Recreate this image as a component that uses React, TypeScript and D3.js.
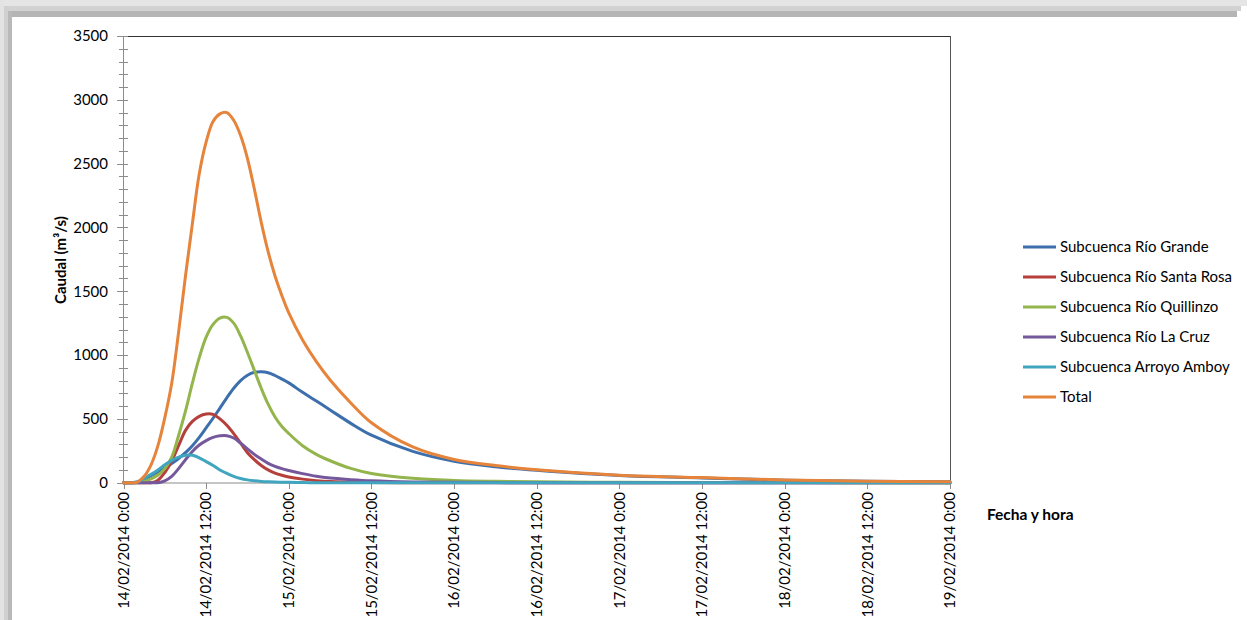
import React from 'react';
import * as d3 from 'd3';

// Hours since 14/02/2014 0:00
const HOURS = [0,1,2,3,4,5,6,7,8,9,10,11,12,13,14,15,16,17,18,19,20,21,22,23,24,26,28,30,33,36,42,48,54,60,72,84,96,108,120];

const RIO_GRANDE = [0,0,5,25,55,85,115,150,190,235,290,355,430,505,585,665,740,800,842,865,870,862,840,812,782,708,640,570,465,372,245,168,125,97,56,37,20,12,7];
const RIO_SANTA_ROSA = [0,0,0,0,0,20,80,170,290,410,480,520,538,535,500,450,385,310,235,180,135,100,75,58,45,28,16,9,5,2,0,0,0,0,0,0,0,0,0];
const RIO_QUILLINZO = [0,0,0,10,30,60,110,200,370,560,780,980,1140,1240,1290,1295,1250,1150,1020,880,740,615,515,440,385,290,222,172,112,72,34,18,11,7,3,2,1,0,0];
const RIO_LA_CRUZ = [0,0,0,0,0,0,15,50,110,180,245,295,330,355,367,368,350,310,265,222,185,152,128,110,96,71,50,36,24,15,6,3,1,0,0,0,0,0,0];
const ARROYO_AMBOY = [0,0,5,35,65,100,140,175,200,215,215,195,165,135,100,73,50,33,22,15,10,7,5,4,3,1,0,0,0,0,0,0,0,0,0,0,0,0,0];
const TOTAL = [0,0,5,50,140,290,510,780,1180,1620,2030,2420,2670,2830,2890,2900,2840,2720,2540,2300,2040,1810,1620,1465,1330,1118,948,805,625,470,280,182,135,102,59,40,21,12,8];

const SERIES_NAMES = [
  'Subcuenca Río Grande',
  'Subcuenca Río Santa Rosa',
  'Subcuenca Río Quillinzo',
  'Subcuenca Río La Cruz',
  'Subcuenca Arroyo Amboy',
  'Total',
];
const SERIES_VALUES = [RIO_GRANDE, RIO_SANTA_ROSA, RIO_QUILLINZO, RIO_LA_CRUZ, ARROYO_AMBOY, TOTAL];
const SERIES_COLORS = ['#3D6FAC', '#B53F3A', '#93B54C', '#75589C', '#40A5BF', '#E5843A'];

const Y_TICKS = [0, 500, 1000, 1500, 2000, 2500, 3000, 3500];
const X_TICK_HOURS = [0, 12, 24, 36, 48, 60, 72, 84, 96, 108, 120];
const X_TICK_LABELS = [
  '14/02/2014 0:00', '14/02/2014 12:00', '15/02/2014 0:00', '15/02/2014 12:00',
  '16/02/2014 0:00', '16/02/2014 12:00', '17/02/2014 0:00', '17/02/2014 12:00',
  '18/02/2014 0:00', '18/02/2014 12:00', '19/02/2014 0:00',
];

const W = 1247;
const H = 620;
const FONT = 'Lato, "Open Sans", sans-serif';

export default function App() {
  const x = d3.scaleLinear().domain([0, 120]).range([123.5, 950]);
  const y = d3.scaleLinear().domain([0, 3500]).range([482.7, 36]);
  const minor = d3.range(0, 3501, 100);
  const line = d3
    .line<number>()
    .x((_, i) => x(HOURS[i]))
    .y((d) => Math.min(y(d), 482.7))
    .curve(d3.curveCatmullRom.alpha(0.5));

  const legendY = d3.scaleLinear().domain([0, 5]).range([247, 397]);

  return (
    <svg
      width={W}
      height={H}
      style={{ position: 'absolute', left: 0, top: 0, background: '#fff' }}
      fontFamily={FONT}
    >
      <rect x={0} y={0} width={W} height={H} fill="#ffffff" />
      {/* shadow frame */}
      <rect x={0} y={0} width={W} height={6} fill="#e5e5e5" />
      <rect x={0} y={6} width={W - 6} height={5} fill="#d2d2d2" />
      <rect x={0} y={11} width={W - 10} height={6} fill="#b5b5b5" />
      <rect x={0} y={0} width={4} height={H} fill="#e3e3e3" />
      <rect x={4} y={6} width={4} height={H - 6} fill="#d0d0d0" />
      <rect x={8} y={11} width={4} height={H - 11} fill="#b9b9b9" />

      {/* plot borders */}
      <line x1={127} x2={950} y1={36.5} y2={36.5} stroke="#333" strokeWidth={1} />
      <line x1={950.5} x2={950.5} y1={36} y2={483} stroke="#555" strokeWidth={1} />

      {/* y axis */}
      <line x1={123.5} x2={123.5} y1={36} y2={483} stroke="#8c8c8c" strokeWidth={1} />
      {minor.map((v) => (
        <line key={'m' + v} x1={119} x2={128} y1={Math.round(y(v)) + 0.5} y2={Math.round(y(v)) + 0.5} stroke="#8c8c8c" />
      ))}
      {Y_TICKS.map((v) => (
        <g key={'y' + v}>
          <line x1={117} x2={124} y1={Math.round(y(v)) + 0.5} y2={Math.round(y(v)) + 0.5} stroke="#8c8c8c" />
          <text x={108} y={y(v)} dy="0.35em" textAnchor="end" fontSize={15} fill="#000">
            {v}
          </text>
        </g>
      ))}

      {/* x axis */}
      <line x1={123.5} x2={950} y1={483} y2={483} stroke="#8c8c8c" strokeWidth={1.2} />
      {X_TICK_HOURS.map((h, i) => (
        <g key={'x' + h}>
          <line x1={Math.round(x(h)) + 0.5} x2={Math.round(x(h)) + 0.5} y1={483} y2={489} stroke="#8c8c8c" />
          <text
            transform={`translate(${x(h)},492) rotate(-90)`}
            textAnchor="end"
            dy="0.35em"
            fontSize={15}
            fill="#000"
          >
            {X_TICK_LABELS[i]}
          </text>
        </g>
      ))}

      {/* series */}
      {SERIES_VALUES.map((vals, i) => (
        <path
          key={'s' + i}
          d={line(vals) || ''}
          fill="none"
          stroke={SERIES_COLORS[i]}
          strokeWidth={3}
          strokeLinejoin="round"
          strokeLinecap="round"
        />
      ))}

      {/* axis titles */}
      <text
        transform="translate(61,260) rotate(-90)"
        textAnchor="middle"
        dy="0.35em"
        fontSize={15}
        fontWeight="bold"
        fill="#000"
      >
        Caudal (m³/s)
      </text>
      <text x={987} y={515} dy="0.35em" fontSize={15.5} fontWeight="bold" fill="#000">
        Fecha y hora
      </text>

      {/* legend */}
      {SERIES_NAMES.map((name, i) => (
        <g key={'l' + i}>
          <line x1={1023} x2={1056} y1={legendY(i)} y2={legendY(i)} stroke={SERIES_COLORS[i]} strokeWidth={3} />
          <text x={1060} y={legendY(i)} dy="0.35em" fontSize={15} fill="#000">
            {name}
          </text>
        </g>
      ))}
    </svg>
  );
}
